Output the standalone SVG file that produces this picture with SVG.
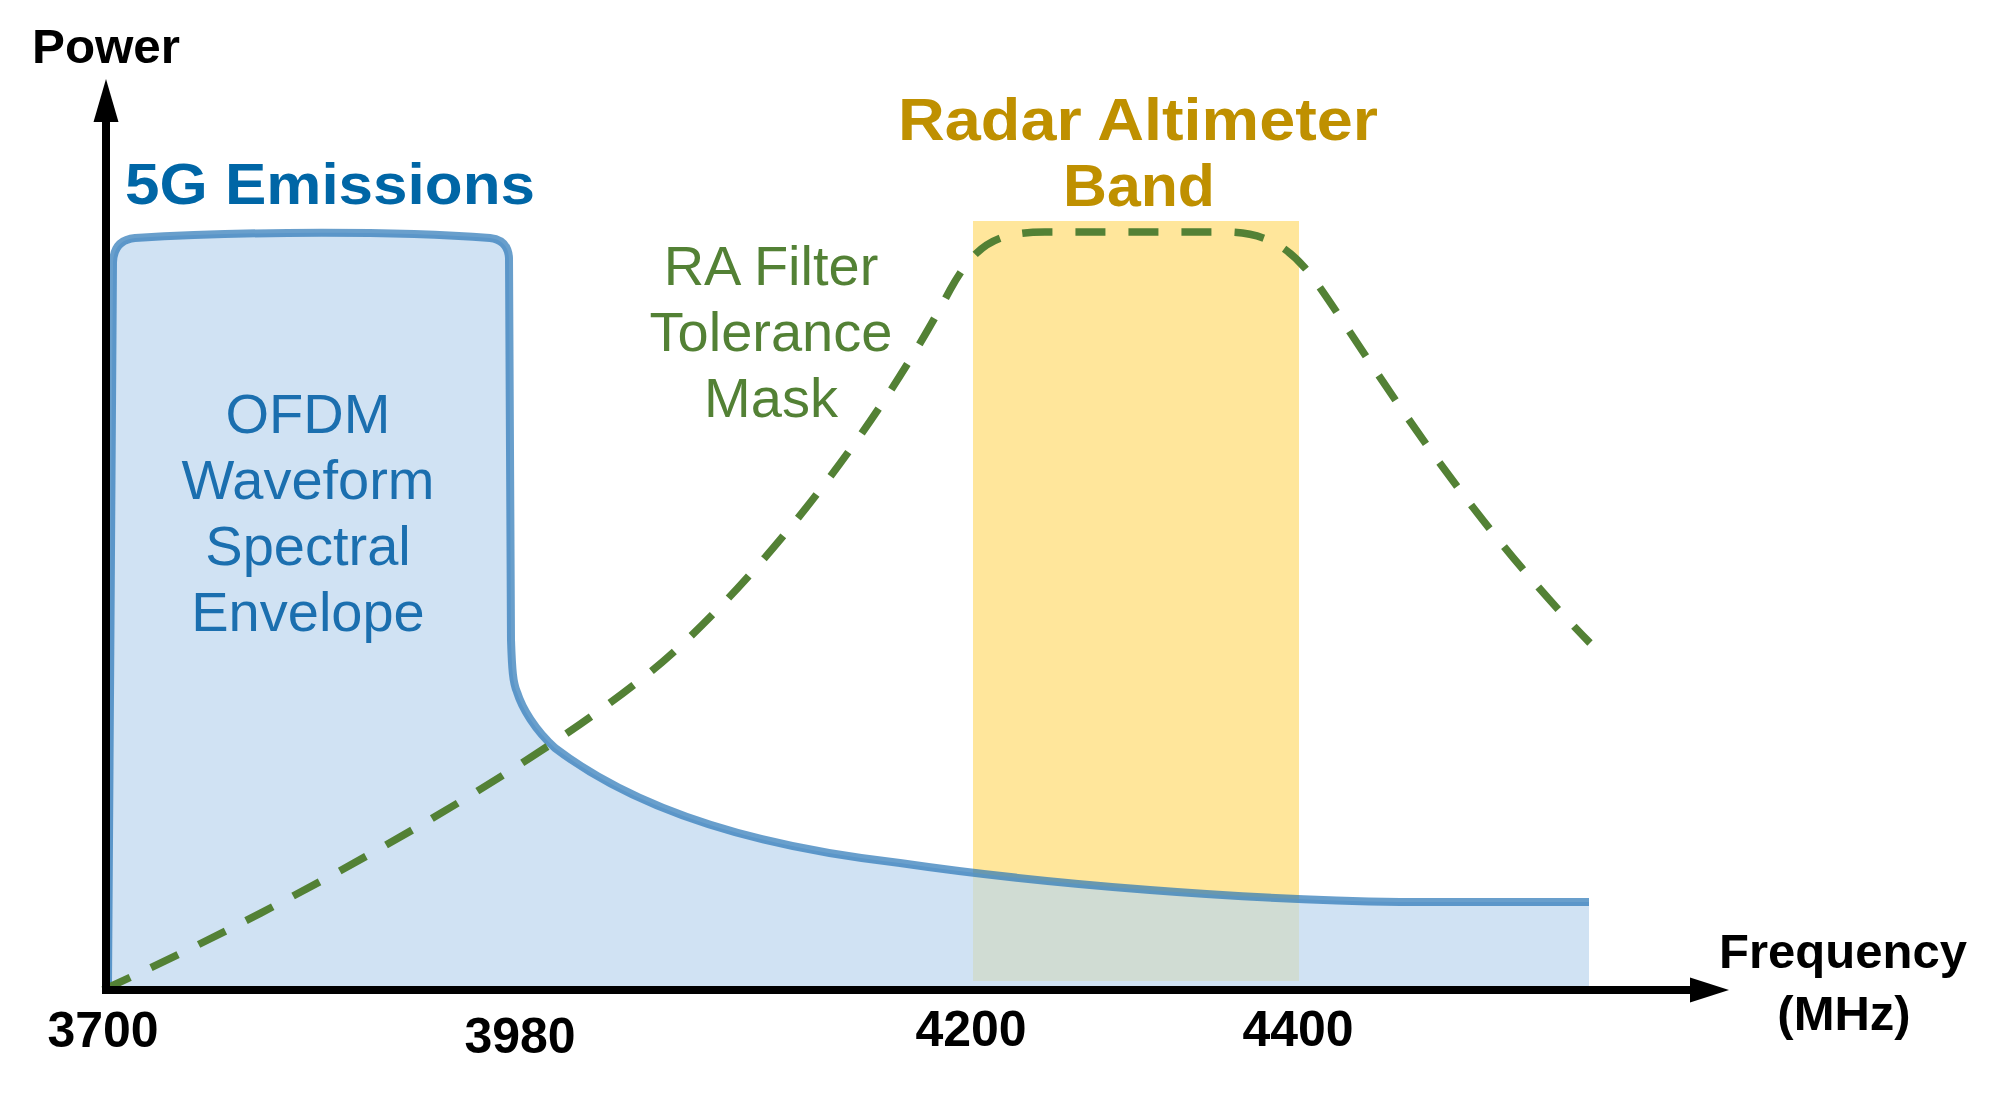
<svg xmlns="http://www.w3.org/2000/svg" width="2000" height="1095" viewBox="0 0 2000 1095">
  <style>
    .ax { stroke: #000; stroke-width: 8; fill: none; }
    .ah { fill: #000; }
    .lbl { font-family: "Liberation Sans", Arial, sans-serif; font-weight: bold; fill: #000; font-size: 49px; }
    .tick { font-family: "Liberation Sans", Arial, sans-serif; font-weight: bold; fill: #000; font-size: 50px; text-anchor: middle; }
    .blue-t { font-family: "Liberation Sans", Arial, sans-serif; fill: #1b6faf; font-size: 56px; text-anchor: middle; }
    .green-t { font-family: "Liberation Sans", Arial, sans-serif; fill: #538135; font-size: 56px; text-anchor: middle; }
    .gold-t { font-family: "Liberation Sans", Arial, sans-serif; font-weight: bold; fill: #bf9000; font-size: 59px; text-anchor: middle; }
    .title5g { font-family: "Liberation Sans", Arial, sans-serif; font-weight: bold; fill: #0066a6; font-size: 58px; }
    .env-fill { fill: #d0e2f3; stroke: none; }
    .env-line { fill: none; stroke: #2a76b6; stroke-opacity: 0.7; stroke-width: 8; stroke-linejoin: round; }
    .mask { fill: none; stroke: #538135; stroke-width: 7.5; stroke-dasharray: 30 23; }
  </style>
  <defs>
    <clipPath id="envClip">
      <path d="M107,994 L107,988 L113,262 Q114,240 135,238 C250,231 400,231 490,238 Q508,240 509,258 L511,640 C512,670 513,683 517,692 C522,708 535,730 555,748 C630,805 740,845 900,863 C1050,885 1250,900 1400,902 L1589,902 L1589,994 Z"/>
    </clipPath>
  </defs>
  <rect width="2000" height="1095" fill="#fff"/>

  <g id="emissions-area">
    <path class="env-fill" d="M107,994 L107,988 L113,262 Q114,240 135,238 C250,231 400,231 490,238 Q508,240 509,258 L511,640 C512,670 513,683 517,692 C522,708 535,730 555,748 C630,805 740,845 900,863 C1050,885 1250,900 1400,902 L1589,902 L1589,994 Z"/>
  </g>

  <g id="ra-band">
    <rect x="973" y="221" width="326" height="760" fill="#ffe69b"/>
    <rect x="973" y="221" width="326" height="760" fill="#d0dcd3" clip-path="url(#envClip)"/>
  </g>

  <g id="emissions-envelope">
    <path class="env-line" d="M108,986 L113,262 Q114,240 135,238 C250,231 400,231 490,238 Q508,240 509,258 L511,640 C512,670 513,683 517,692 C522,708 535,730 555,748 C630,805 740,845 900,863 C1050,885 1250,900 1400,902 L1589,902"/>
  </g>

  <g id="connectors">
    <path class="mask" d="M103,990 C300,900 520,775 640,680 C720,620 860,460 950,290 C975,245 995,232 1045,232 L1225,232 C1262,232 1285,245 1305,268 C1340,308 1440,490 1590,643"/>
    <line class="ax" x1="106" y1="994" x2="106" y2="115"/>
    <polygon class="ah" points="106,79 118.5,122 93.5,122"/>
    <line class="ax" x1="102" y1="990" x2="1695" y2="990"/>
    <polygon class="ah" points="1729,990 1690,977.5 1690,1002.5"/>
  </g>

  <g id="axis-labels">
    <text class="lbl" x="32" y="63" textLength="148" lengthAdjust="spacingAndGlyphs">Power</text>
    <text class="lbl" x="1843" y="968" text-anchor="middle">Frequency</text>
    <text class="lbl" x="1844" y="1030" text-anchor="middle">(MHz)</text>
  </g>

  <g id="ticks">
    <text class="tick" x="103" y="1047">3700</text>
    <text class="tick" x="520" y="1053">3980</text>
    <text class="tick" x="971" y="1046">4200</text>
    <text class="tick" x="1298" y="1046">4400</text>
  </g>

  <g id="label-5g">
    <text class="title5g" x="125" y="204" textLength="410" lengthAdjust="spacingAndGlyphs">5G Emissions</text>
  </g>

  <g id="label-ofdm">
    <text class="blue-t" x="308" y="433">OFDM</text>
    <text class="blue-t" x="308" y="499">Waveform</text>
    <text class="blue-t" x="308" y="565">Spectral</text>
    <text class="blue-t" x="308" y="631">Envelope</text>
  </g>

  <g id="label-mask">
    <text class="green-t" x="771" y="285">RA Filter</text>
    <text class="green-t" x="771" y="351">Tolerance</text>
    <text class="green-t" x="771" y="417">Mask</text>
  </g>

  <g id="label-ra">
    <text class="gold-t" x="1138" y="140" textLength="480" lengthAdjust="spacingAndGlyphs">Radar Altimeter</text>
    <text class="gold-t" x="1139" y="206" textLength="152" lengthAdjust="spacingAndGlyphs">Band</text>
  </g>
</svg>
